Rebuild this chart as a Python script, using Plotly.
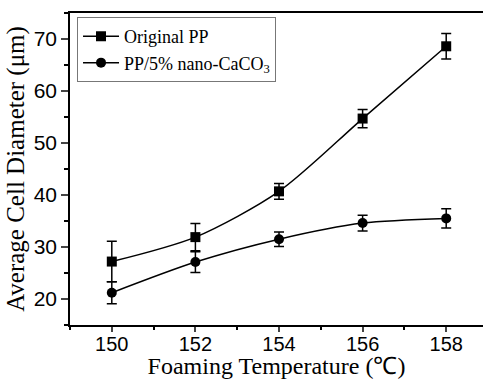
import plotly.graph_objects as go

temps = [150, 152, 154, 156, 158]
pp_mean = [27.2, 31.9, 40.7, 54.7, 68.6]
pp_err = [3.9, 2.6, 1.5, 1.75, 2.45]
nano_mean = [21.2, 27.1, 31.5, 34.6, 35.5]
nano_err = [2.1, 2.0, 1.4, 1.5, 1.85]
names = ["Original PP", "PP/5% nano-CaCO<sub>3</sub>"]

fig = go.Figure()
for y, e, n, sym in [(pp_mean, pp_err, names[0], "square"), (nano_mean, nano_err, names[1], "circle")]:
    fig.add_trace(go.Scatter(
        x=temps, y=y, name=n, mode="lines+markers",
        line=dict(color="black", width=1.5, shape="spline", smoothing=0.8),
        marker=dict(symbol=sym, size=10, color="black"),
        error_y=dict(type="data", array=e, visible=True, color="black", thickness=1.5, width=5),
    ))

fig.update_layout(
    width=483, height=379,
    margin=dict(l=70, r=0, t=13, b=54),
    plot_bgcolor="white", paper_bgcolor="white",
    showlegend=True,
    legend=dict(x=0.017, y=0.987, xanchor="left", yanchor="top",
                bordercolor="#777", borderwidth=1, bgcolor="white",
                font=dict(family="Liberation Serif", size=18, color="black"),
                tracegroupgap=0, itemwidth=36),
    font=dict(family="Liberation Sans", color="black"),
)
fig.update_xaxes(
    range=[149, 158.88], tickvals=temps, ticks="outside", ticklen=5, tickwidth=1.5,
    ticklabelstandoff=-5,
    showline=True, linecolor="black", linewidth=1.5, mirror=True, showgrid=False, zeroline=False,
    tickfont=dict(family="Liberation Sans", size=20, color="black"),
    minor=dict(dtick=1, tick0=149, ticks="outside", ticklen=3, tickwidth=1.5, tickcolor="black"),
    title=dict(text="Foaming Temperature (℃)", font=dict(family="Liberation Serif", size=24, color="black"), standoff=0),
)
fig.update_yaxes(
    range=[15, 75], tickvals=[20, 30, 40, 50, 60, 70], ticks="outside", ticklen=7, tickwidth=1.5,
    showline=True, linecolor="black", linewidth=1.5, showgrid=False, zeroline=False,
    tickfont=dict(family="Liberation Sans", size=21, color="black"),
    minor=dict(dtick=5, tick0=15, ticks="outside", ticklen=4, tickwidth=1.5, tickcolor="black"),
    title=dict(text="Average Cell Diameter (μm)", font=dict(family="Liberation Serif", size=25, color="black"), standoff=2),
)
fig.write_html("out.html")
